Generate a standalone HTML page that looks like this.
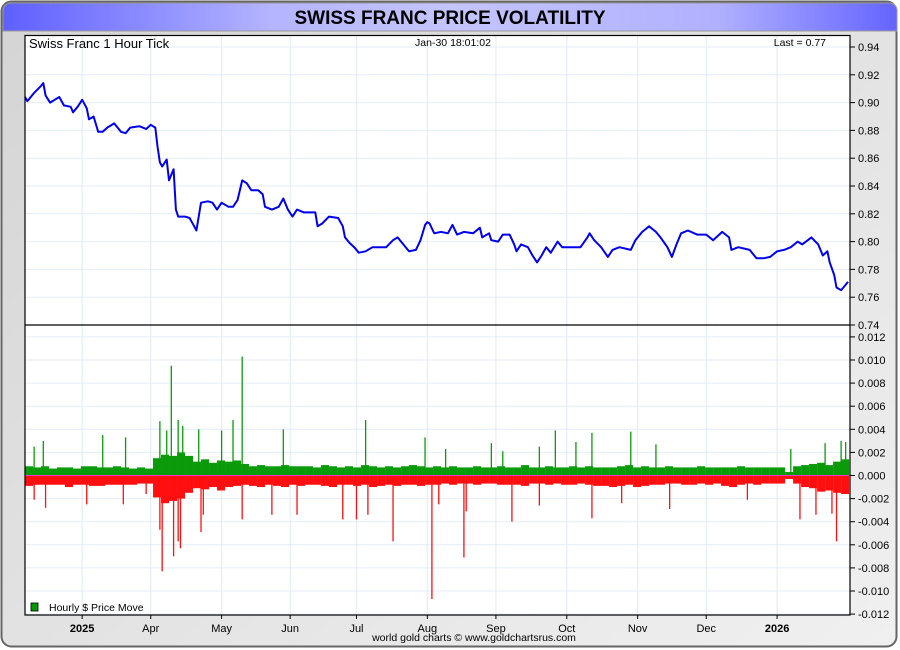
<!DOCTYPE html>
<html><head><meta charset="utf-8"><style>
html,body{margin:0;padding:0;width:900px;height:650px;overflow:hidden;background:#fff;}
svg text{font-family:"Liberation Sans",Arial,sans-serif;}
</style></head><body>
<svg id="chart" width="900" height="650" viewBox="0 0 900 650" xmlns="http://www.w3.org/2000/svg">
<defs>
<linearGradient id="bg" x1="0" y1="0" x2="1" y2="1"><stop offset="0" stop-color="#d4d4d4"/><stop offset="1" stop-color="#f0f0f0"/></linearGradient>
<linearGradient id="tb" x1="0" y1="0" x2="1" y2="0"><stop offset="0" stop-color="#5f5fff"/><stop offset="0.3" stop-color="#b4b4ff"/><stop offset="0.5" stop-color="#c4c4ff"/><stop offset="0.8" stop-color="#b0b0ff"/><stop offset="1" stop-color="#6464ff"/></linearGradient>
</defs>
<rect x="1.5" y="1.5" width="895" height="645" rx="10" fill="url(#bg)" stroke="#666" stroke-width="2"/>
<path d="M3,31 L3,12 Q3,3 12,3 L888,3 Q897,3 897,12 L897,31 Z" fill="url(#tb)" stroke="#999" stroke-width="1"/>
<text x="450" y="24" text-anchor="middle" font-size="19" font-weight="bold" fill="#000">SWISS FRANC PRICE VOLATILITY</text>
<rect x="25" y="35" width="825" height="580" fill="#fff"/>
<g id="grid"></g>
<g id="bars"></g>
<g id="line"></g>
<rect x="25" y="35.5" width="825" height="579.5" fill="none" stroke="#000" stroke-width="1.2"/>
<line x1="25" y1="325" x2="850" y2="325" stroke="#000" stroke-width="1.2"/>
<g id="axes"></g>
<text x="29" y="48" font-size="13" fill="#000">Swiss Franc 1 Hour Tick</text>
<text x="453" y="46" text-anchor="middle" font-size="10.5" fill="#000">Jan-30  18:01:02</text>
<text x="826" y="46" text-anchor="end" font-size="10.5" fill="#000">Last = 0.77</text>
<rect x="31" y="603" width="7" height="8" fill="#009900" stroke="#000" stroke-width="0.8"/>
<text x="49" y="611" font-size="10.5" fill="#000">Hourly $ Price Move</text>
<text x="474" y="641" text-anchor="middle" font-size="10.5" fill="#000">world gold charts © www.goldchartsrus.com</text>
</svg>
<script>
const priceDays=[0,1,4,7,8,9,11,13,15,17,20,21,23,25,27,28,30,32,34,36,39,42,44,46,50,53,55,57,58,59,60,62,63,65,66,67,70,72,74,75,77,80,82,84,86,89,91,93,95,97,99,102,104,105,108,111,113,115,117,119,122,125,127,128,130,133,137,139,140,142,144,146,149,152,154,158,161,163,165,168,171,173,175,176,177,179,182,185,187,189,192,196,199,200,203,204,207,209,212,214,215,217,220,222,224,226,228,230,233,235,240,243,246,247,249,252,255,257,260,265,267,270,273,276,278,281,283,285,287,290,294,298,301,305,308,309,312,317,320,323,326,329,332,335,338,340,344,347,349,351,352,354,355,357,358,360];
const priceValues=[.904,.901,.907,.912,.914,.905,.900,.902,.904,.898,.897,.893,.897,.902,.896,.888,.890,.879,.879,.882,.885,.879,.878,.882,.883,.881,.884,.882,.868,.857,.854,.859,.844,.852,.823,.818,.818,.817,.811,.808,.828,.829,.828,.823,.828,.825,.825,.830,.844,.842,.837,.837,.834,.825,.823,.825,.831,.823,.818,.823,.821,.821,.821,.811,.813,.818,.817,.811,.803,.799,.796,.792,.793,.796,.796,.796,.801,.803,.799,.793,.794,.801,.812,.814,.813,.806,.807,.806,.812,.805,.807,.806,.810,.803,.806,.801,.800,.805,.805,.798,.793,.798,.796,.790,.785,.790,.796,.792,.800,.796,.796,.796,.803,.806,.801,.796,.789,.794,.796,.794,.801,.807,.811,.807,.803,.796,.789,.798,.806,.808,.805,.805,.801,.807,.803,.794,.796,.794,.788,.788,.789,.793,.794,.796,.800,.798,.803,.798,.790,.793,.785,.776,.767,.765,.767,.771];
const bandUp=[0.8,0.7,0.8,0.6,0.7,0.7,0.6,0.8,0.8,0.7,0.7,0.8,0.7,0.6,0.7,0.6,1.5,1.8,1.7,2.0,1.7,1.2,1.4,1.1,1.3,1.2,1.3,1.0,0.8,0.9,0.8,0.8,0.9,0.8,0.8,0.8,0.7,0.9,0.8,0.7,0.8,0.7,0.9,0.8,0.7,0.8,0.7,0.8,0.9,0.8,0.7,0.8,0.7,0.8,0.7,0.7,0.8,0.7,0.7,0.8,0.7,0.7,0.9,0.7,0.7,0.8,0.7,0.7,0.8,0.7,0.8,0.7,0.7,0.7,0.8,0.9,0.7,0.8,0.7,0.7,0.8,0.7,0.7,0.7,0.8,0.7,0.7,0.7,0.7,0.8,0.7,0.7,0.7,0.7,0.7,0.3,0.8,0.9,1.0,1.1,0.9,1.2,1.4];
const bandDown=[0.9,0.8,0.8,0.8,0.8,1.0,0.8,0.8,0.9,0.9,0.8,0.8,0.8,0.8,0.7,0.7,1.9,2.4,2.2,2.0,1.5,1.1,1.2,1.0,1.3,1.0,0.9,0.8,0.9,1.0,0.8,0.9,1.0,0.8,0.9,0.8,0.8,0.9,1.0,0.8,0.8,0.9,0.8,1.0,0.9,0.8,0.9,0.8,0.8,0.9,0.8,0.8,0.7,0.8,0.7,0.7,0.8,0.7,0.7,0.8,0.8,0.8,0.9,0.7,0.7,0.8,0.7,0.8,0.8,0.7,0.8,0.9,0.9,1.0,0.9,0.8,1.0,0.9,0.8,0.8,0.7,0.7,0.8,0.8,0.7,0.8,0.7,0.9,1.0,0.8,0.7,0.8,0.7,0.7,0.7,0.3,0.7,1.0,1.1,1.4,1.3,1.5,1.6];
const spikeUpDays=[4,8,34,44,59,62,64,67,69,76,86,91,95,113,149,175,184,204,209,225,232,241,248,265,276,335,350,357,359];
const spikeUpValues=[2.5,3.0,3.5,3.3,4.7,3.9,9.5,4.8,4.3,4.0,3.9,4.8,10.3,4.0,4.8,3.3,2.3,2.8,2.1,2.5,3.9,2.9,3.7,3.8,2.7,2.3,2.8,3.0,2.9];
const spikeDownDays=[4,9,27,43,53,59,60,65,67,68,77,78,95,108,119,139,145,150,161,178,181,192,193,213,225,248,261,282,316,339,346,353,355];
const spikeDownValues=[2.1,2.8,2.5,2.5,1.6,4.7,8.3,7.0,5.7,6.3,4.9,3.4,3.8,3.4,3.4,3.8,3.8,3.4,5.7,10.7,2.5,7.1,3.1,4.0,2.6,3.7,2.4,2.9,2.1,3.8,3.4,3.3,5.7];
const priceTicks=[0.74,0.76,0.78,0.80,0.82,0.84,0.86,0.88,0.90,0.92,0.94];
const moveTicks=[-0.012,-0.010,-0.008,-0.006,-0.004,-0.002,0,0.002,0.004,0.006,0.008,0.010,0.012];
const monthDays=[25,55,86,116,145,176,206,237,268,298,329];
const monthLabels=["2025","Apr","May","Jun","Jul","Aug","Sep","Oct","Nov","Dec","2026"];
const binDays=3.5, milli=0.001;

const NS="http://www.w3.org/2000/svg";
const xD=d=>25+d*2.286;
const yP=v=>47+(0.94-v)/0.02*27.8;
const yV=v=>475.5-v/0.002*23.1;
function mk(tag,attrs,parent){const e=document.createElementNS(NS,tag);for(const k in attrs)e.setAttribute(k,attrs[k]);document.getElementById(parent).appendChild(e);return e;}

priceTicks.forEach(v=>{
  const g=mk('line',{x1:25,x2:850,y1:yP(v),y2:yP(v),stroke:'#e4eef7','stroke-width':1},'grid');
  
  
  const t=mk('line',{x1:850,x2:855,y1:yP(v),y2:yP(v),stroke:'#000'},'axes');
  
  
  const l=mk('text',{x:858,y:yP(v)+4,'font-size':11,fill:'#000'},'axes');
  l.textContent=v.toFixed(2);
  
  
});
moveTicks.forEach(v=>{
  const g=mk('line',{x1:25,x2:850,y1:yV(v),y2:yV(v),stroke:'#e4eef7','stroke-width':1},'grid');
  
  
  const t=mk('line',{x1:850,x2:855,y1:yV(v),y2:yV(v),stroke:'#000'},'axes');
  
  
  const l=mk('text',{x:858,y:yV(v)+4,'font-size':11,fill:'#000'},'axes');
  l.textContent=v.toFixed(3);
  
  
});
monthDays.forEach((d,i)=>{
  const g=mk('line',{x1:xD(d),x2:xD(d),y1:36,y2:614,stroke:'#e4eef7','stroke-width':1.2},'grid');
  
  
  const t=mk('line',{x1:xD(d),x2:xD(d),y1:615,y2:619,stroke:'#000'},'axes');
  
  
  const bold=/^\d+$/.test(monthLabels[i]);
  const l=mk('text',{x:xD(d),y:632,'font-size':11,'text-anchor':'middle',fill:'#000','font-weight':bold?'bold':'normal'},'axes');
  l.textContent=monthLabels[i];
  
  
});
bandUp.forEach((v,i)=>{
  const x0=xD(i*binDays), x1=xD((i+1)*binDays);
  const r=mk('rect',{x:x0,y:yV(v*milli),width:x1-x0,height:yV(0)-yV(v*milli),fill:'#0a9a0a'},'bars');
  
  
});
bandDown.forEach((v,i)=>{
  const x0=xD(i*binDays), x1=xD((i+1)*binDays);
  const r=mk('rect',{x:x0,y:yV(0),width:x1-x0,height:yV(-v*milli)-yV(0),fill:'#ff0f0f'},'bars');
  
  
});
spikeUpDays.forEach((d,i)=>{
  const s=mk('line',{x1:xD(d),x2:xD(d),y1:yV(0),y2:yV(spikeUpValues[i]*milli),stroke:'#0a9a0a','stroke-width':1.3},'bars');
  
  
});
spikeDownDays.forEach((d,i)=>{
  const s=mk('line',{x1:xD(d),x2:xD(d),y1:yV(0),y2:yV(-spikeDownValues[i]*milli),stroke:'#ff0f0f','stroke-width':1.3},'bars');
  
  
});
const z=mk('line',{x1:25,x2:850,y1:yV(0),y2:yV(0),stroke:'#ff33cc','stroke-width':1},'bars');


const pts=priceDays.map((d,i)=>xD(d).toFixed(1)+','+yP(priceValues[i]).toFixed(1)).join(' ');
const pl=mk('polyline',{points:pts,fill:'none',stroke:'#0000ee','stroke-width':2,'stroke-linejoin':'round'},'line');


</script>
</body></html>
